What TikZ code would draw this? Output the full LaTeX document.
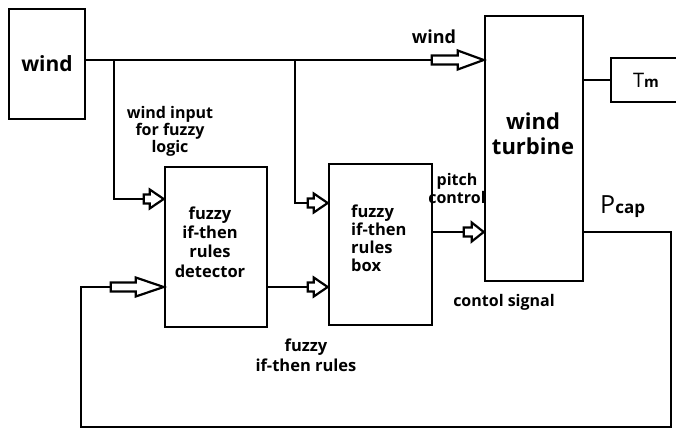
\documentclass[tikz,border=0pt]{standalone}
\usepackage{fontspec}
\setmainfont{Open Sans}
\usetikzlibrary{calc}
\tikzset{
  ln/.style={line width=2.6pt, line join=miter},
  blk/.style={draw, line width=2.6pt, rectangle, inner sep=0pt},
  hol/.style={draw, line width=2.2pt, fill=white, line join=miter},
  txt/.style={inner sep=0pt, align=center, font=\bfseries\fontsize{16}{19}\selectfont},
}
\newcommand\hollowarrow[3]{%
  \draw[hol] (#1) -- ++(-#3,-9.5) -- ++(0,5) -- ++(-#2,0) -- ++(0,9) -- ++(#2,0) -- ++(0,5) -- cycle;}
\begin{document}
\begin{tikzpicture}[x=1pt, y=-1pt]
\useasboundingbox (0,0) rectangle (676,430);
% blocks
\node[blk, minimum width=76, minimum height=110, font=\bfseries\fontsize{21}{24}\selectfont] (windsrc) at (47,64) {wind};
\node[blk, minimum width=98, minimum height=265] (turbine) at (534,148.5) {};
\node[blk, minimum width=102, minimum height=160] (det) at (216,247) {};
\node[blk, minimum width=103, minimum height=161] (fbox) at (380.5,244.5) {};
\node[blk, minimum width=70, minimum height=44] (tm) at (646,80) {{\fontsize{20}{20}\selectfont T}{\bfseries\fontsize{15}{15}\selectfont m}};
% texts inside blocks
\node[txt, font=\bfseries\fontsize{22}{25}\selectfont] (turbtxt) at (533,134) {wind\\turbine};
\node[txt, font=\bfseries\fontsize{16.5}{19.3}\selectfont] (dettxt) at (210,242) {fuzzy\\if-then\\rules\\detector};
\node[txt, align=left, anchor=west, font=\bfseries\fontsize{16.5}{18}\selectfont] (fboxtxt) at (351,238) {fuzzy\\if-then\\rules\\box};
% coordinates
\coordinate (j1) at (114,60);
\coordinate (j2) at (295,60);
\coordinate (y1) at (0,199);
\coordinate (y2) at (0,203);
\coordinate (y3) at (0,287);
\coordinate (y4) at (0,232);
\coordinate (c1) at (671,232);
\coordinate (c2) at (671,427);
\coordinate (c3) at (81,427);
% connectors
\draw[ln] (windsrc.east|-j1) -- ($(turbine.west|-j1)+(-52,0)$);
\hollowarrow{turbine.west|-j1}{26}{26}
\draw[ln] (j1) |- ($(det.west|-y1)+(-20,0)$);
\hollowarrow{det.west|-y1}{6}{14}
\draw[ln] (j2) |- ($(fbox.west|-y2)+(-20,0)$);
\hollowarrow{fbox.west|-y2}{6}{14}
\draw[ln] (det.east|-y3) -- ($(fbox.west|-y3)+(-20,0)$);
\hollowarrow{fbox.west|-y3}{6}{14}
\draw[ln] (fbox.east|-y4) -- ($(turbine.west|-y4)+(-20,0)$);
\hollowarrow{turbine.west|-y4}{8}{12}
\draw[ln] (turbine.east|-tm) -- (tm.west);
\draw[ln] (turbine.east|-y4) -- (c1) -- (c2) -- (c3) -- (c3|-y3) -- ($(det.west|-y3)+(-53,0)$);
\hollowarrow{det.west|-y3}{25}{28}
% labels
\node[txt, font=\bfseries\fontsize{18}{20}\selectfont] (lwind) at (434,37) {wind};
\node[txt, font=\bfseries\fontsize{16}{15.5}\selectfont] (lin) at (170,131.5) {wind input\\for fuzzy\\logic};
\node[txt, font=\bfseries\fontsize{16}{18}\selectfont] (lpitch) at (457,189) {pitch\\control};
\node[txt] (lctl) at (504,302) {contol signal};
\node[txt, font=\bfseries\fontsize{16.5}{20}\selectfont] (lrules) at (306,355) {fuzzy\\if-then rules};
\node[inner sep=0pt, anchor=base west] (pcap) at (600,213) {{\fontsize{25}{25}\selectfont P}{\bfseries\fontsize{17}{17}\selectfont cap}};
\end{tikzpicture}
\end{document}
